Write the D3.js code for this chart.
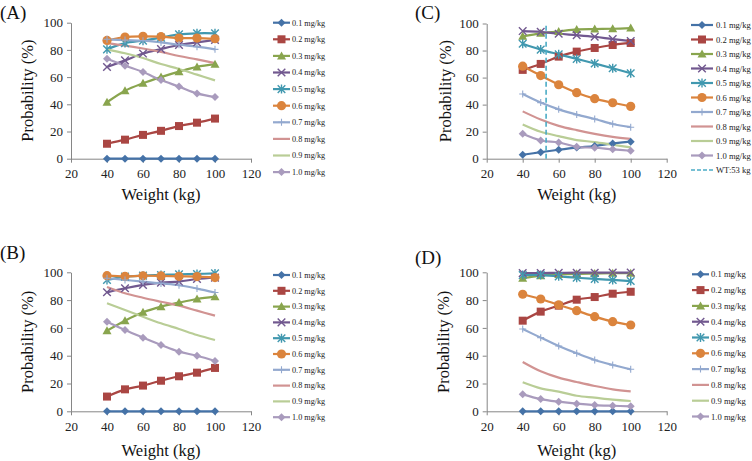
<!DOCTYPE html>
<html><head><meta charset="utf-8">
<script src="https://cdn.jsdelivr.net/npm/d3@7"></script>
<style>
body{margin:0;background:#fff;}
svg{display:block;}
text{font-family:"Liberation Serif","Times New Roman",serif;}
</style></head>
<body>
<svg id="chart" width="752" height="461"></svg>
<script>
const weights = [40, 50, 60, 70, 80, 90, 100];
const doses = ["0.1 mg/kg","0.2 mg/kg","0.3 mg/kg","0.4 mg/kg","0.5 mg/kg","0.6 mg/kg","0.7 mg/kg","0.8 mg/kg","0.9 mg/kg","1.0 mg/kg"];
const xTicks = [20, 40, 60, 80, 100, 120];
const yTicks = [0, 20, 40, 60, 80, 100];
const wtLine = {label: "WT:53 kg", weight: 53};

const probA = [
  [0, 0, 0, 0, 0, 0, 0],
  [11, 14, 17.5, 20.5, 24, 26.5, 29.5],
  [41.5, 50, 55.5, 60, 64, 67.5, 69.5],
  [67.4, 72.3, 77.3, 80.6, 83.6, 85.5, 87.3],
  [80.4, 85, 86.8, 89, 91.4, 92.2, 92.2],
  [87, 89.5, 90, 89.7, 88.7, 88.7, 88.2],
  [87.8, 87.2, 86.8, 85.5, 83.8, 82.4, 80.4],
  [85, 83.2, 81, 78.5, 75.5, 73, 70.3],
  [80.4, 77.5, 74, 69.6, 66, 61.8, 57.6],
  [73.5, 68.4, 63.7, 57.8, 53, 48, 45.3]
];
const probB = [
  [0, 0, 0, 0, 0, 0, 0],
  [10.6, 15.8, 18.5, 22, 25.2, 27.8, 31.2],
  [58, 65.2, 71.2, 75.3, 78.2, 80.8, 82.5],
  [85.6, 88.5, 90.9, 92.6, 93.3, 95.2, 96.2],
  [94.5, 96.9, 97.6, 98.1, 98.6, 98.8, 99.2],
  [97.6, 97.1, 97.5, 97.4, 97.1, 96.9, 96.2],
  [95.7, 94.5, 93.3, 92, 90.7, 88.3, 85.5],
  [89.4, 84.9, 81.7, 78.8, 76, 72.4, 68.8],
  [77.7, 72.9, 68, 63.3, 59.2, 54.9, 51.3],
  [64.5, 58.5, 53, 47.7, 42.9, 40, 36.2]
];
const probC = [
  [2.9, 4.8, 6.6, 8.2, 9.4, 11.3, 12.6],
  [65.7, 70.1, 75.5, 79.2, 81.9, 84.1, 85.6],
  [90.5, 92.7, 94.1, 95.6, 95.9, 96.1, 96.6],
  [94.4, 93.9, 92.4, 91.4, 90.2, 88.5, 87],
  [85, 80.7, 77.2, 73.8, 70.4, 66.9, 63.2],
  [68.4, 61.5, 54.7, 48.8, 44.4, 41.4, 38.7],
  [47.8, 41.5, 36.5, 32.6, 29.4, 25.7, 23.3],
  [35, 29, 24.3, 21.1, 18.4, 16.2, 14.7],
  [25.3, 19.9, 16.7, 13.8, 12.3, 10.3, 8.4],
  [18.4, 13.5, 12, 8.8, 8.1, 6.9, 5.9]
];
const probD = [
  [0, 0, 0, 0, 0, 0, 0],
  [65.2, 71.7, 76, 80.3, 82.2, 84.6, 86],
  [95.7, 97.6, 98.4, 98.9, 99.1, 99.3, 99.4],
  [99.4, 99.5, 99.6, 99.7, 99.7, 99.8, 99.8],
  [98, 98, 97.1, 96.1, 95.2, 94.5, 93.7],
  [84.2, 80.8, 76.5, 72.4, 68.1, 64.5, 62.1],
  [59.2, 53, 47, 41.7, 36.9, 33.3, 30.2],
  [35.5, 28.8, 24.2, 21.1, 18.2, 15.8, 14.4],
  [20.9, 16.5, 14.1, 11.2, 9.8, 8.4, 7.4],
  [12.2, 8.8, 6.9, 5.5, 4.5, 4, 3.6]
];

const colors = ["#4572A7","#AA4643","#89A54E","#71588F","#4198AF","#DB843D","#93A9CF","#D19392","#B9CD96","#A99BBD"];
const markers = ["diamond","square","triangle","x","star","circle","plus",null,null,"diamond"];
const wtColor = "#4BACC6";

const panels = [
  {label:"(A)", data:probA, lx:0, ly:19, x0:71, x1:251, yT:22.7, yB:158.7, yTitleX:33, xTitleY:200,
   leg:{l0:273, l1:290, tx:292, y0:22.7, dy:16.6, fs:8.2}, wt:false},
  {label:"(B)", data:probB, lx:0, ly:259, x0:71, x1:251, yT:272.3, yB:411.3, yTitleX:33, xTitleY:456,
   leg:{l0:273, l1:290, tx:292, y0:275, dy:15.8, fs:8.2}, wt:false},
  {label:"(C)", data:probC, lx:415, ly:19, x0:486.7, x1:666.7, yT:23.5, yB:158.7, yTitleX:450.5, xTitleY:200,
   leg:{l0:691, l1:713, tx:716, y0:25, dy:14.5, fs:8.6}, wt:true},
  {label:"(D)", data:probD, lx:415, ly:264, x0:486.7, x1:666.7, yT:272.3, yB:411.3, yTitleX:448.5, xTitleY:456,
   leg:{l0:692, l1:709, tx:711, y0:274.3, dy:15.8, fs:8.6}, wt:false}
];

const svg = d3.select("#chart");

function drawMarker(g, type, color, x, y) {
  if (!type) return;
  const s = g.append("g").attr("transform", `translate(${x},${y})`);
  if (type === "diamond") {
    s.append("path").attr("d","M0,-4L4,0L0,4L-4,0Z").attr("fill",color);
  } else if (type === "square") {
    s.append("rect").attr("x",-4).attr("y",-4).attr("width",8).attr("height",8).attr("fill",color);
  } else if (type === "triangle") {
    s.append("path").attr("d","M0,-4.5L4.5,3.5L-4.5,3.5Z").attr("fill",color);
  } else if (type === "x") {
    s.append("path").attr("d","M-3.8,-3.8L3.8,3.8M-3.8,3.8L3.8,-3.8").attr("stroke",color).attr("stroke-width",1.4).attr("fill","none");
  } else if (type === "star") {
    s.append("path").attr("d","M-3.8,-3.8L3.8,3.8M-3.8,3.8L3.8,-3.8M0,-4.5L0,4.5").attr("stroke",color).attr("stroke-width",1.4).attr("fill","none");
  } else if (type === "circle") {
    s.append("circle").attr("r",4.6).attr("fill",color);
  } else if (type === "plus") {
    s.append("path").attr("d","M-3.5,0L3.5,0M0,-3.5L0,3.5").attr("stroke",color).attr("stroke-width",1.1).attr("fill","none");
  }
}

panels.forEach(p => {
  const g = svg.append("g");
  const x = d3.scaleLinear().domain([20, 120]).range([p.x0, p.x1]);
  const y = d3.scaleLinear().domain([0, 100]).range([p.yB, p.yT]);

  // axes
  const ya = g.append("g").attr("transform", `translate(${p.x0},0)`)
    .call(d3.axisLeft(y).tickValues(yTicks).tickSize(4).tickSizeOuter(0).tickPadding(4));
  const xa = g.append("g").attr("transform", `translate(0,${p.yB})`)
    .call(d3.axisBottom(x).tickValues(xTicks).tickSize(4).tickSizeOuter(0).tickPadding(6));
  [ya, xa].forEach(a => {
    a.selectAll("path,line").attr("stroke", "#868686");
    a.selectAll("text").attr("fill", "#222").style("font-size", "13px").style("font-family", '"Liberation Serif",serif');
  });

  // titles
  g.append("text").attr("x", p.lx).attr("y", p.ly).text(p.label)
    .style("font-size", "19px").attr("fill", "#111");
  g.append("text").attr("transform", `translate(${p.yTitleX},${(p.yT + p.yB) / 2}) rotate(-90)`)
    .attr("text-anchor", "middle").style("font-size", "16.5px").attr("fill", "#111").text("Probability (%)");
  g.append("text").attr("x", (p.x0 + p.x1) / 2).attr("y", p.xTitleY)
    .attr("text-anchor", "middle").style("font-size", "16.5px").attr("fill", "#111").text("Weight (kg)");

  // series
  const line = d3.line().x((d, i) => x(weights[i])).y(d => y(d)).curve(d3.curveCatmullRom.alpha(0.5));
  p.data.forEach((vals, si) => {
    g.append("path").attr("d", line(vals)).attr("fill", "none")
      .attr("stroke", colors[si]).attr("stroke-width", 2.2);
  });
  p.data.forEach((vals, si) => {
    vals.forEach((v, i) => drawMarker(g, markers[si], colors[si], x(weights[i]), y(v)));
  });

  if (p.wt) {
    g.append("line").attr("x1", x(wtLine.weight)).attr("x2", x(wtLine.weight))
      .attr("y1", y(0)).attr("y2", y(100)).attr("stroke", wtColor)
      .attr("stroke-width", 1.6).attr("stroke-dasharray", "5,3");
  }

  // legend
  const L = p.leg;
  doses.forEach((d, i) => {
    const yy = L.y0 + i * L.dy;
    g.append("line").attr("x1", L.l0).attr("x2", L.l1).attr("y1", yy).attr("y2", yy)
      .attr("stroke", colors[i]).attr("stroke-width", 2.2);
    drawMarker(g, markers[i], colors[i], (L.l0 + L.l1) / 2, yy);
    g.append("text").attr("x", L.tx).attr("y", yy).attr("dy", "0.35em")
      .style("font-size", L.fs + "px").attr("fill", "#222").text(d);
  });
  if (p.wt) {
    const yy = L.y0 + doses.length * L.dy;
    g.append("line").attr("x1", L.l0).attr("x2", L.l1).attr("y1", yy).attr("y2", yy)
      .attr("stroke", wtColor).attr("stroke-width", 1.6).attr("stroke-dasharray", "4,2");
    g.append("text").attr("x", L.tx).attr("y", yy).attr("dy", "0.35em")
      .style("font-size", L.fs + "px").attr("fill", "#222").text(wtLine.label);
  }
});
</script>
</body></html>
